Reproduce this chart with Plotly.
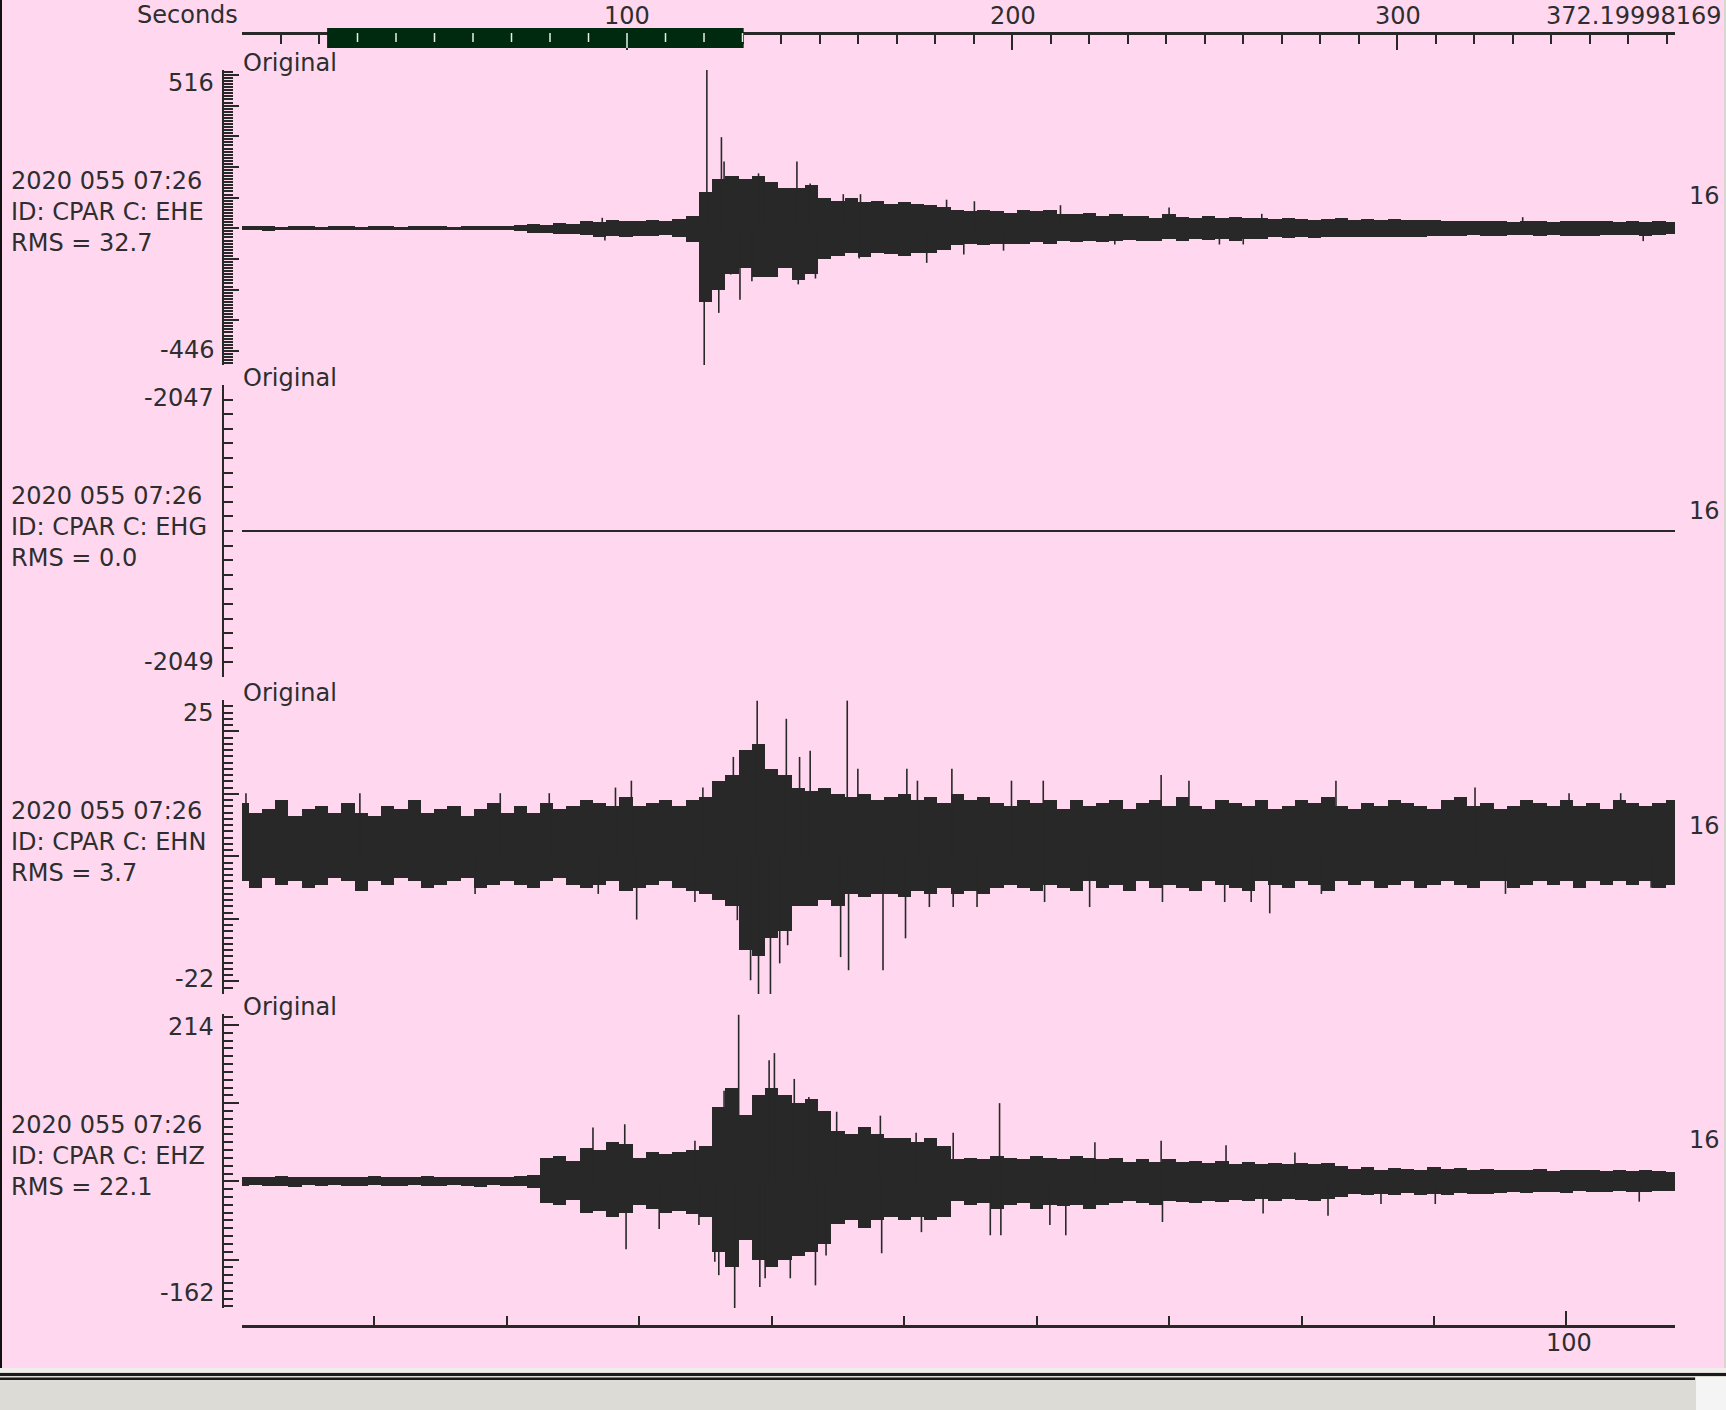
import plotly.graph_objects as go

W, H = 1726, 1410
PINK = "#ffd8f0"
INK = "#282828"
TXT = "#2e2e2e"
FONT = "DejaVu Sans"
FS = 24

# ---------------- data ----------------
overview_end_s = 372.19998169
window_start_s = 22.1
window_end_s = 130.3
window_len_s = 108.2
time_s = list(range(109))

stamp = "2020 055 07:26"
station = "CPAR"
channels = ["EHE", "EHG", "EHN", "EHZ"]
rms_vals = ["32.7", "0.0", "3.7", "22.1"]
y_max = [516, -2047, 25, 214]
y_min = [-446, -2049, -22, -162]
gain = "16"

ehe_hi = [6, 7, 6, 5, 6, 7, 5, 6, 6, 5, 7, 6, 5, 6, 7, 6, 5, 6, 7, 6,
          8, 10, 14, 12, 18, 15, 24, 20, 28, 25, 22, 28, 24, 30, 40, 118, 160, 170, 160, 170,
          150, 130, 130, 140, 100, 90, 100, 85, 90, 80, 85, 80, 75, 70, 60, 55, 60, 55, 50, 60,
          55, 60, 45, 45, 50, 40, 45, 40, 40, 35, 45, 38, 35, 40, 35, 38, 35, 32, 30, 32,
          30, 28, 30, 32, 28, 30, 28, 30, 28, 26, 28, 25, 22, 24, 22, 22, 20, 24, 22, 20,
          22, 24, 25, 22, 20, 22, 20, 22, 20]
ehe_lo = [-6, -6, -8, -6, -7, -6, -6, -7, -5, -6, -7, -6, -7, -5, -6, -7, -6, -6, -7, -6,
          -7, -9, -16, -15, -20, -18, -22, -30, -25, -28, -24, -26, -22, -30, -45, -240, -200, -150, -130, -160,
          -160, -130, -170, -150, -100, -90, -80, -95, -80, -85, -90, -80, -80, -70, -55, -50, -55, -50, -50, -50,
          -45, -50, -40, -45, -40, -45, -40, -38, -40, -40, -35, -40, -35, -38, -35, -40, -35, -35, -30, -32,
          -30, -32, -28, -30, -30, -28, -30, -28, -30, -28, -26, -25, -25, -22, -25, -24, -22, -22, -25, -22,
          -24, -26, -24, -22, -22, -22, -24, -22, -20]
ehe_spike_t = [35.1, 34.9, 36.2, 36.0, 36.4, 37.6, 36.9, 39.0, 39.4, 38.5, 41.9, 42.0, 42.9, 43.3,
               45.4, 46.7, 46.6, 51.7, 27.4, 27.2, 53.2, 55.3, 54.5, 57.5, 61.8, 65.9, 70.0, 73.8,
               75.6, 77.0, 96.7, 105.8]
ehe_spike_v = [516, -446, 297, -276, 218, -233, -151, 179, 164, -173, 218, -183, 146, -164,
               111, 111, -99, -113, -40, 34, 93, 88, -86, -73, 75, -53, 68, -53,
               -53, 47, 36, -42]

ehg_level = -2048.0

ehn_hi = [8.5, 7, 7.5, 9, 6.5, 7.5, 8, 7, 8.5, 7,
          6.5, 8, 7.5, 9, 7, 7.5, 8, 6.5, 7.5, 8.5,
          7, 8, 7, 8.5, 7.5, 8, 9, 8.5, 8, 9.5,
          8, 8.5, 9, 8, 9, 9.5, 12, 13, 17, 18,
          14, 13, 11, 10.5, 11, 10, 9.5, 10, 9, 9.5,
          10, 9, 9.5, 8.5, 10, 9, 9.5, 8.5, 8, 9,
          8.5, 9, 7.5, 9, 8, 8.5, 9, 7.5, 8.5, 9,
          8, 9.5, 8, 7.5, 9, 8.5, 8, 9, 7.5, 8,
          9, 8.5, 9.5, 8, 7.5, 8.5, 8, 9, 8.5, 8,
          7.5, 9, 9.5, 8, 8.5, 7.5, 8, 9, 8.5, 8,
          9, 8, 8.5, 7.5, 9, 8.5, 8, 8.5, 9]
ehn_lo = [-4, -5, -3.5, -4.5, -4, -5, -4.5, -3.5, -4, -5.5,
          -4, -4.5, -3.5, -4, -5, -4.5, -4, -3.5, -5, -4.5,
          -4, -4.5, -5, -4, -3.5, -4.5, -5, -4.5, -4, -5.5,
          -5, -4.5, -4, -5, -5.5, -6, -7, -8, -15, -16,
          -13, -12, -8, -8, -7, -8, -6, -6.5, -6, -6,
          -6.5, -5.5, -6, -5, -6, -5.5, -6, -5, -4.5, -5,
          -5.5, -4.5, -5, -5.5, -4, -5, -4.5, -5.5, -4, -5,
          -4.5, -5, -5.5, -4, -4.5, -5, -5.5, -4, -4.5, -5,
          -4, -4.5, -5.5, -4, -4.5, -4, -5, -4.5, -4, -5,
          -4.5, -4, -4.5, -5, -4, -4, -5, -4.5, -4, -4.5,
          -4, -5, -4, -4.5, -4, -4.5, -4, -5, -4.5]
ehn_spike_t = [0.3, 8.9, 17.6, 19.5, 23.2, 26.9, 28.2, 29.4, 29.8, 34.2, 34.8, 37.1, 37.4, 38.9,
               39.0, 39.9, 38.4, 41.1, 40.6, 41.2, 42.1, 42.9, 45.2, 45.7, 45.8, 46.5, 48.4, 50.1,
               50.2, 51.0, 51.9, 53.6, 53.7, 55.5, 58.1, 60.5, 60.6, 64.0, 69.4, 69.5, 71.5, 74.2,
               76.2, 77.6, 82.6, 81.5, 93.1, 95.4, 100.2, 104.1, 106.4]
ehn_spike_v = [10.1, 10.1, -6, 10.1, 10.1, -6, 11, 12.1, -10.1, -7.3, 11, 15.9, -10.2, 24.9,
               -22.2, -22.2, -19.8, 22, -17.1, -14.2, 15.9, 16.9, -16.1, 24.9, -18.2, 14, -18.2, -13.1,
               14, 12.1, -8.1, 14, -8.1, -8.1, 12.1, 12.1, -7.3, -8.1, 13, -7.3, 12.1, -7.3,
               -7.3, -9.1, 12.1, -6, 11, -6, 10.1, 10.1, -5]

ehz_hi = [6, 5, 6, 7, 6, 5, 6, 6, 5, 6, 7, 6, 5, 6, 7, 6, 5, 6, 6, 5,
          6, 7, 8, 30, 32, 26, 42, 40, 50, 48, 30, 38, 35, 38, 40, 45, 95, 120, 85, 110,
          120, 110, 100, 105, 90, 65, 60, 70, 60, 55, 55, 50, 55, 45, 28, 30, 28, 32, 30, 28,
          32, 30, 28, 32, 30, 28, 30, 25, 28, 25, 28, 25, 26, 24, 26, 22, 25, 22, 24, 22,
          24, 22, 24, 20, 16, 18, 15, 17, 16, 15, 18, 16, 17, 15, 16, 14, 15, 14, 16, 13,
          14, 14, 15, 13, 14, 13, 14, 13, 12]
ehz_lo = [-6, -5, -6, -6, -7, -5, -6, -5, -6, -6, -5, -6, -6, -5, -6, -6, -5, -6, -7, -5,
          -6, -6, -8, -28, -30, -24, -40, -38, -45, -40, -30, -35, -40, -38, -42, -45, -90, -110, -75, -100,
          -110, -100, -95, -90, -80, -55, -50, -60, -50, -45, -50, -45, -50, -45, -25, -30, -28, -35, -30, -28,
          -35, -30, -32, -30, -35, -30, -28, -25, -28, -30, -25, -26, -28, -25, -26, -24, -25, -22, -25, -22,
          -24, -25, -22, -20, -16, -18, -16, -18, -15, -17, -16, -18, -15, -16, -16, -15, -14, -15, -14, -14,
          -15, -13, -14, -14, -13, -14, -14, -13, -12]
ehz_spike_t = [37.5, 37.2, 36.4, 36.0, 35.7, 39.8, 40.2, 39.1, 39.5, 41.4, 41.7, 42.8, 43.3, 44.1,
               44.9, 48.2, 48.3, 28.9, 29.0, 26.5, 34.2, 31.5, 34.5, 57.2, 56.5, 57.3, 51.3, 50.9,
               53.7, 62.2, 61.0, 64.4, 69.4, 69.5, 74.3, 77.1, 79.5, 82.0, 86.0, 90.1, 105.5]
ehz_spike_v = [213, -162, 116, -120, -103, 155, 164, -135, -124, -124, 131, 108, -133, -95,
               89, 84, -92, 73, -87, 69, 52, -61, -56, 100, -69, -69, -65, 62,
               62, -69, -56, 50, 52, -52, 46, -41, 37, -44, -29, -29, -26]

# ---------------- geometry ----------------
panel_top = [70, 385, 700, 1014]
panel_bot = [365, 677, 994, 1308]
plot_l, plot_r = 242, 1675
yaxis_x = 223


def px(x):
    return x / W


def py(y):
    return 1 - y / H


fig = go.Figure()


def envelope(hi, lo, yref):
    n = min(len(time_s), len(hi), len(lo))
    fig.add_trace(go.Bar(x=time_s[:n], y=[h - l for h, l in zip(hi[:n], lo[:n])], base=lo[:n],
                         width=1.0, marker=dict(color=INK, line=dict(width=0)),
                         xaxis="x", yaxis=yref, hoverinfo="skip", showlegend=False))


def spikes(ts, vs, yref):
    xs, ys = [], []
    for tt, v in zip(ts, vs):
        xs += [tt, tt, None]
        ys += [0, v, None]
    fig.add_trace(go.Scatter(x=xs, y=ys, mode="lines", line=dict(width=1.6, color=INK),
                             xaxis="x", yaxis=yref, hoverinfo="skip", showlegend=False))


envelope(ehe_hi, ehe_lo, "y")
spikes(ehe_spike_t, ehe_spike_v, "y")
fig.add_trace(go.Scatter(x=[0, window_len_s], y=[ehg_level, ehg_level], mode="lines",
                         line=dict(width=2, color=INK), xaxis="x", yaxis="y2",
                         hoverinfo="skip", showlegend=False))
envelope(ehn_hi, ehn_lo, "y3")
spikes(ehn_spike_t, ehn_spike_v, "y3")
envelope(ehz_hi, ehz_lo, "y4")
spikes(ehz_spike_t, ehz_spike_v, "y4")
# dummy trace to realise the overview (top) axis
fig.add_trace(go.Scatter(x=[0, overview_end_s], y=[None, None], mode="lines",
                         xaxis="x2", yaxis="y", hoverinfo="skip", showlegend=False))

layout_axes = {}
major_step = [100, None, 10, 100]
minor_step = [10, 0.1, 1, 10]
for i in range(4):
    lo_v, hi_v = y_min[i], y_max[i]
    if major_step[i]:
        ms = major_step[i]
        majors = [k * ms for k in range(int(lo_v // ms) - 1, int(hi_v // ms) + 2)
                  if lo_v < k * ms < hi_v]
    else:
        majors = []
    majors = [lo_v] + majors + [hi_v]
    st = minor_step[i]
    n = int(round((hi_v - lo_v) / st))
    base = lo_v if i == 1 else st * int(lo_v // st)
    minors = [round(base + k * st, 4) for k in range(n + 2) if lo_v <= base + k * st <= hi_v]
    name = "yaxis" if i == 0 else f"yaxis{i + 1}"
    layout_axes[name] = dict(
        domain=[py(panel_bot[i]), py(panel_top[i])], range=[lo_v, hi_v],
        anchor="free", position=px(yaxis_x), showline=True, linecolor=INK, linewidth=2,
        ticks="inside", tickvals=majors, ticklen=15, tickwidth=2, tickcolor=INK,
        showticklabels=False, showgrid=False, zeroline=False, fixedrange=True,
        minor=dict(tickvals=minors, ticks="inside", ticklen=9, tickwidth=1.5, tickcolor=INK,
                   showgrid=False),
    )

bottom_minor = list(range(0, 110, 10))
layout_axes["xaxis"] = dict(
    domain=[px(plot_l), px(plot_r)], range=[0, window_len_s], anchor="free",
    position=py(1326), showline=True, linecolor=INK, linewidth=2.5,
    ticks="inside", tickvals=[0, 100, window_len_s], ticklen=14, tickwidth=2, tickcolor=INK,
    showticklabels=False, showgrid=False, zeroline=False, fixedrange=True,
    minor=dict(tickvals=bottom_minor, ticks="inside", ticklen=9, tickwidth=1.5, tickcolor=INK,
               showgrid=False),
)
top_minor = list(range(0, 380, 10))
layout_axes["xaxis2"] = dict(
    domain=[px(plot_l), px(plot_r)], range=[0, overview_end_s], anchor="free",
    overlaying="x", side="top", position=py(33), showline=True, linecolor=INK, linewidth=2.5,
    ticks="inside", tickvals=[0, 100, 200, 300, overview_end_s], ticklen=15, tickwidth=2,
    tickcolor=INK, showticklabels=False, showgrid=False, zeroline=False, fixedrange=True,
    minor=dict(tickvals=top_minor, ticks="inside", ticklen=9, tickwidth=1.5, tickcolor=INK,
               showgrid=False),
)

shapes = []
# overview window bar
shapes.append(dict(type="rect", xref="x2", yref="paper", x0=window_start_s, x1=window_end_s,
                   y0=py(48), y1=py(28), fillcolor="#002a10", line=dict(width=0), layer="above"))
for s in range(30, 131, 10):
    if window_start_s < s < window_end_s:
        shapes.append(dict(type="line", xref="x2", yref="paper", x0=s, x1=s,
                           y0=py(48 if s == 100 else 42), y1=py(33),
                           line=dict(color="#e8f0e8", width=1.5), layer="above"))
# left border & bottom status strip
shapes.append(dict(type="rect", xref="paper", yref="paper", x0=0, x1=px(2), y0=py(1368), y1=1,
                   fillcolor="#111111", line=dict(width=0)))
shapes.append(dict(type="rect", xref="paper", yref="paper", x0=px(1724), x1=1, y0=py(1368), y1=1,
                   fillcolor="#d8d6d0", line=dict(width=0)))
shapes.append(dict(type="rect", xref="paper", yref="paper", x0=0, x1=1, y0=0, y1=py(1368),
                   fillcolor="#dcdbd6", line=dict(width=0)))
shapes.append(dict(type="rect", xref="paper", yref="paper", x0=0, x1=1, y0=py(1372), y1=py(1368),
                   fillcolor="#f0eeea", line=dict(width=0)))
shapes.append(dict(type="rect", xref="paper", yref="paper", x0=0, x1=1, y0=py(1376), y1=py(1373),
                   fillcolor="#1a1a1a", line=dict(width=0)))
shapes.append(dict(type="rect", xref="paper", yref="paper", x0=0, x1=px(1695), y0=py(1380), y1=py(1377.5),
                   fillcolor="#1a1a1a", line=dict(width=0)))
shapes.append(dict(type="rect", xref="paper", yref="paper", x0=px(1696), x1=1, y0=0, y1=py(1377),
                   fillcolor="#f4f4f4", line=dict(width=0)))

annotations = []


def ann(text, x, y, xanchor="left"):
    annotations.append(dict(text=text, x=px(x), y=py(y), xref="paper", yref="paper",
                            xanchor=xanchor, yanchor="middle", showarrow=False,
                            font=dict(family=FONT, size=FS, color=TXT)))


ann("Seconds", 240, 15, "right")
for v, xx in [("100", 627), ("200", 1013), ("300", 1398)]:
    ann(v, xx, 16, "center")
ann(f"{overview_end_s:.8f}".rstrip("0"), 1724, 16, "right")
ann("100", 1569, 1343, "center")

for i in range(4):
    top, bot = panel_top[i], panel_bot[i]
    ann("Original", 241, top - 7)
    ann(str(y_max[i]), 216, top + 13, "right")
    ann(str(y_min[i]), 216, bot - 15, "right")
    ann(stamp, 9, top + 111)
    ann(f"ID: {station} C: {channels[i]}", 9, top + 142)
    ann(f"RMS = {rms_vals[i]}", 9, top + 173)
    ann(gain, 1704, top + 126, "center")

fig.update_layout(width=W, height=H, margin=dict(l=0, r=0, t=0, b=0),
                  paper_bgcolor=PINK, plot_bgcolor=PINK, showlegend=False,
                  barmode="overlay", bargap=0,
                  shapes=shapes, annotations=annotations, **layout_axes)

fig.write_html("out.html", config={"displayModeBar": False},
               post_script="document.body.style.margin='0px';"
                           "document.body.style.overflow='hidden';"
                           "document.body.style.backgroundColor='#ffd8f0';")
